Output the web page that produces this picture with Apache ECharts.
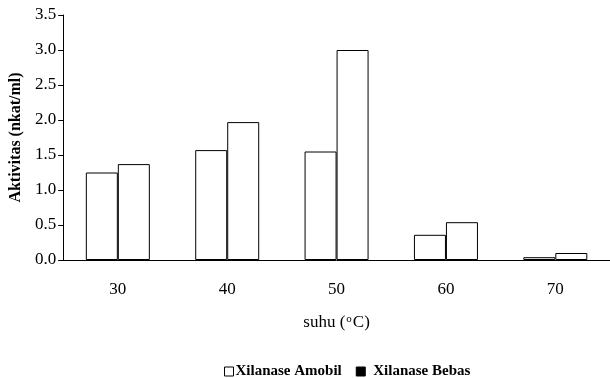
<!DOCTYPE html>
<html>
<head>
<meta charset="utf-8">
<script src="https://cdn.jsdelivr.net/npm/echarts@6/dist/echarts.min.js"></script>
<style>
  html, body { margin: 0; padding: 0; background: #fff; }
  #chart { width: 610px; height: 378px; }
</style>
</head>
<body>
<div id="chart"></div>
<script>
// Enzyme activity by temperature
const temperatures = ['30', '40', '50', '60', '70'];
const amobil = [1.25, 1.57, 1.55, 0.36, 0.04];
const bebas = [1.37, 1.97, 3.00, 0.54, 0.10];
const seriesNames = ['Xilanase Amobil', 'Xilanase Bebas'];

const serif = 'Liberation Serif';
const chart = echarts.init(document.getElementById('chart'));

const barStyle = { color: '#fff', borderColor: '#000', borderWidth: 1 };

chart.setOption({
  animation: false,
  textStyle: { fontFamily: serif },
  grid: { left: 62, top: 15, width: 550, height: 245, containLabel: false },
  legend: {
    top: 359,
    left: 219,
    itemWidth: 9,
    itemHeight: 9,
    itemGap: 14,
    icon: 'rect',
    textStyle: { fontFamily: serif, fontWeight: 'bold', fontSize: 15, color: '#000', padding: [0, 0, 0, -3] },
    data: [
      { name: seriesNames[0], itemStyle: { color: '#fff', borderColor: '#000', borderWidth: 1 } },
      {
        name: seriesNames[1],
        itemStyle: { color: '#000', borderColor: '#000', borderWidth: 1 },
        textStyle: { padding: [0, 0, 0, 3] }
      }
    ]
  },
  xAxis: {
    type: 'category',
    data: temperatures,
    axisLine: { lineStyle: { color: '#000', width: 1 } },
    axisTick: { show: false },
    axisLabel: { color: '#000', fontSize: 17, fontFamily: serif, margin: 21 },
    name: '{t|suhu (}{s|o}{t|C)}',
    nameLocation: 'middle',
    nameGap: 54,
    nameTextStyle: {
      rich: {
        t: { fontFamily: serif, fontSize: 17, color: '#000' },
        s: { fontFamily: serif, fontSize: 11, color: '#000', verticalAlign: 'top', padding: [0, 1, 7, 1] }
      }
    }
  },
  yAxis: {
    type: 'value',
    min: 0,
    max: 3.5,
    interval: 0.5,
    splitLine: { show: false },
    axisLine: { show: true, lineStyle: { color: '#000', width: 1 } },
    axisTick: { show: true, length: 5, lineStyle: { color: '#000' } },
    axisLabel: { color: '#000', fontSize: 17, fontFamily: serif, margin: 7, formatter: v => v.toFixed(1) },
    name: 'Aktivitas (nkat/ml)',
    nameLocation: 'middle',
    nameGap: 39,
    nameTextStyle: { fontFamily: serif, fontWeight: 'bold', fontSize: 16, color: '#000' }
  },
  series: [
    { name: seriesNames[0], type: 'bar', data: amobil, barWidth: 32, barGap: '0%', itemStyle: barStyle },
    { name: seriesNames[1], type: 'bar', data: bebas, barWidth: 32, barGap: '0%', itemStyle: barStyle }
  ]
});
</script>
</body>
</html>
